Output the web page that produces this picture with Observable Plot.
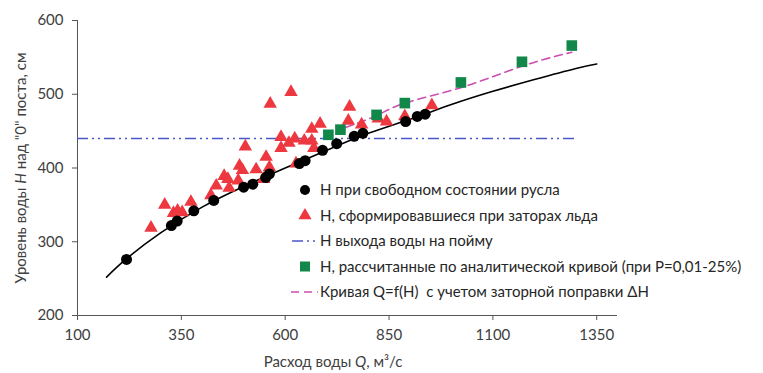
<!DOCTYPE html>
<html><head><meta charset="utf-8">
<script src="https://cdn.jsdelivr.net/npm/d3@7"></script>
<script src="https://cdn.jsdelivr.net/npm/@observablehq/plot@0.6"></script>
<style>body{margin:0;background:#fff} #chart{width:763px;height:373px}</style>
</head><body><div id="chart"></div>
<script>
// Tick values
const xTicks = [100, 350, 600, 850, 1100, 1350];
const yTicks = [200, 300, 400, 500, 600];

// H при свободном состоянии русла
const freeQ = [218, 326, 340, 380, 428, 500, 522, 553, 562, 634, 648, 690, 724, 766, 787, 890, 918, 937];
const freeH = [276, 322, 328, 342, 356, 374, 378, 387, 392, 406, 410, 424, 433, 443, 447, 463, 470, 473];

// H, сформировавшиеся при заторах льда
const jamQ = [277, 310, 331, 341, 352, 373, 421, 434, 453, 462, 465, 487, 490, 497, 504, 530, 548, 554, 562, 564,
              590, 590, 609, 614, 623, 626, 646, 664, 664, 669, 684, 752, 755, 784, 824, 844, 888, 953];
const jamH = [319, 350, 339, 342, 340, 354, 363, 376, 389, 385, 373, 383, 403, 397, 429, 398, 385, 415, 401, 487,
              442, 427, 434, 503, 440, 406, 437, 453, 437, 427, 460, 464, 483, 459, 467, 463, 470, 485];

// H выхода воды на пойму
const floodH = 440;
const floodQ = [100, 1300];

// H, рассчитанные по аналитической кривой
const calcQ = [704, 733, 820, 888, 1023, 1170, 1290];
const calcH = [445, 452, 472, 488, 516, 544, 566];

// Кривая Q=f(H) (свободное русло)
const curveQ = [170, 218, 300, 400, 500, 600, 700, 800, 900, 1000, 1100, 1200, 1300, 1350];
const curveH = [252, 277, 312, 347, 375, 400, 424, 447, 466, 486, 504, 520, 535, 541];

// Кривая с учетом заторной поправки
const jamCurveQ = [745, 820, 888, 1023, 1170, 1290];
const jamCurveH = [455, 471, 488, 509, 538, 557];

const zip = (qs, hs) => qs.map((q, i) => ({q, h: hs[i]}));
const free = zip(freeQ, freeH), jam = zip(jamQ, jamH), calc = zip(calcQ, calcH);
const curve = zip(curveQ, curveH), jamCurve = zip(jamCurveQ, jamCurveH);

const FONT = "Lato";
const plot = Plot.plot({
  width: 763, height: 373,
  marginLeft: 77, marginRight: 146, marginTop: 20, marginBottom: 58,
  style: {fontFamily: FONT, fontSize: "15px", color: "#404040", background: "#fff", overflow: "visible"},
  x: {domain: [100, 1400]},
  y: {domain: [200, 600]},
  marks: [
    Plot.axisX({ticks: xTicks, tickFormat: d => String(d), tickSize: 5, tickPadding: 9, label: null, stroke: "#555"}),
    Plot.axisY({ticks: yTicks, tickFormat: d => String(d), tickSize: 5, tickPadding: 9, label: null, stroke: "#555"}),
    Plot.ruleY([200], {stroke: "#555"}),
    Plot.ruleX([100], {stroke: "#555"}),
    Plot.ruleY([{h: floodH, q1: floodQ[0], q2: floodQ[1]}], {y: "h", x1: "q1", x2: "q2", stroke: "#4b57c9", strokeWidth: 1.5, strokeDasharray: "11,4,2,4,2,4"}),
    Plot.line(curve, {x: "q", y: "h", curve: "natural", stroke: "#000", strokeWidth: 1.6}),
    Plot.line(jamCurve, {x: "q", y: "h", curve: "natural", stroke: "#cc4fb0", strokeWidth: 1.6, strokeDasharray: "8,5"}),
    Plot.dot(jam, {x: "q", y: "h", symbol: "triangle", r: 5, fill: "#ee3840", stroke: "none"}),
    Plot.dot(free, {x: "q", y: "h", symbol: "circle", r: 5.5, fill: "#000", stroke: "none"}),
    Plot.dot(calc, {x: "q", y: "h", symbol: "square", r: 6, fill: "#12874a", stroke: "none"})
  ]
});
document.getElementById("chart").appendChild(plot);

const svg = d3.select(plot);
// Axis titles
const xt = svg.append("text").attr("x", 333).attr("y", 367).attr("text-anchor", "middle")
  .attr("font-family", FONT).attr("font-size", 15).attr("fill", "#404040");
xt.append("tspan").text("Расход воды ");
xt.append("tspan").attr("font-style", "italic").text("Q");
xt.append("tspan").text(", м³/с");

const yt = svg.append("text").attr("transform", "translate(26,168) rotate(-90)").attr("text-anchor", "middle")
  .attr("font-family", FONT).attr("font-size", 15).attr("fill", "#404040");
yt.append("tspan").text("Уровень воды ");
yt.append("tspan").attr("font-style", "italic").text("H");
yt.append("tspan").text(" над \"0\" поста, см");

// Legend
const legendItems = [
  {label: "Н при свободном состоянии русла", kind: "circle"},
  {label: "Н, сформировавшиеся при заторах льда", kind: "triangle"},
  {label: "Н выхода воды на пойму", kind: "dashdot"},
  {label: "Н, рассчитанные по аналитической кривой (при Р=0,01-25%)", kind: "square"},
  {label: "Кривая Q=f(H)  с учетом заторной поправки ΔН", kind: "dash"}
];
const lg = svg.append("g").attr("transform", "translate(0,190)");
legendItems.forEach((d, i) => {
  const g = lg.append("g").attr("transform", `translate(0,${i * 25.5})`);
  if (d.kind === "circle") g.append("circle").attr("cx", 305).attr("cy", 0).attr("r", 5).attr("fill", "#000");
  if (d.kind === "triangle") g.append("path").attr("d", d3.symbol(d3.symbolTriangle, 75)()).attr("transform", "translate(305,0)").attr("fill", "#ee3840");
  if (d.kind === "square") g.append("rect").attr("x", 300).attr("y", -5).attr("width", 10).attr("height", 10).attr("fill", "#12874a");
  if (d.kind === "dashdot") g.append("line").attr("x1", 292).attr("x2", 318).attr("y1", 0).attr("y2", 0).attr("stroke", "#4b57c9").attr("stroke-width", 1.5).attr("stroke-dasharray", "11,4,2,4,2,4");
  if (d.kind === "dash") g.append("line").attr("x1", 291).attr("x2", 318).attr("y1", 0).attr("y2", 0).attr("stroke", "#cc4fb0").attr("stroke-width", 1.6).attr("stroke-dasharray", "8,5");
  g.append("text").attr("x", 320).attr("y", 0).attr("dy", "0.35em").attr("text-anchor", "start")
    .attr("font-family", FONT).attr("font-size", 15).attr("fill", "#262626").text(d.label);
});
</script>
</body></html>
